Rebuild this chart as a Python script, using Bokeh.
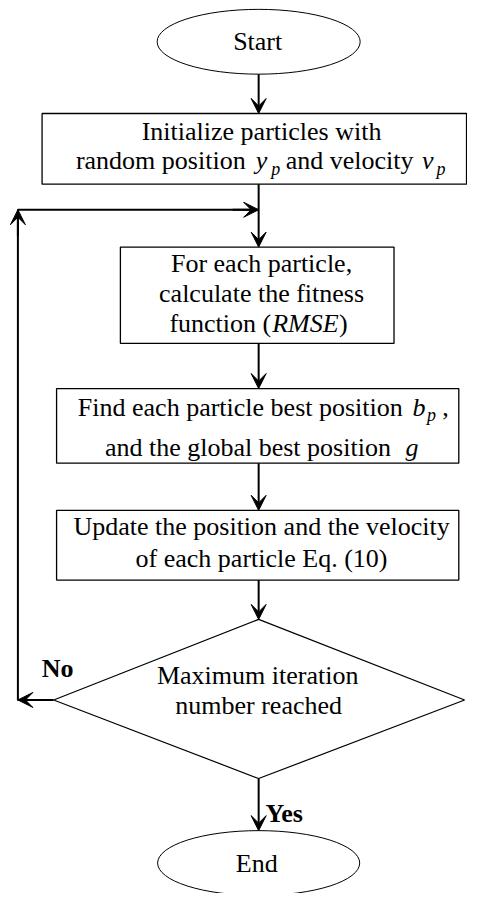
from bokeh.plotting import figure
from bokeh.models import Range1d, Arrow, VeeHead
from bokeh.core.properties import value
from bokeh.embed import file_html
from bokeh.resources import INLINE

# ---- content (labels) ----
start_label = "Start"
end_label = "End"
box1_lines = ["Initialize particles with", "random position"]
box1_tail = ["y", "p", "and velocity", "v", "p"]
box2_lines = ["For each particle,", "calculate the fitness"]
box2_tail = ["function (", "RMSE", ")"]
box3_lines = ["Find each particle best position", "and the global best position"]
box3_tail = ["b", "p", ",", "g"]
box4_lines = ["Update the position and the velocity", "of each particle Eq. (10)"]
diamond_lines = ["Maximum iteration", "number reached"]
branch_labels = ["No", "Yes"]

FONT = "Liberation Serif"
FS = "26px"
FS_SUB = "18px"

p = figure(width=467, height=893, x_range=Range1d(0, 483), y_range=Range1d(909, 0),
           output_backend="svg", toolbar_location=None, min_border=0)
p.axis.visible = False
p.grid.visible = False
p.outline_line_color = None
p.background_fill_color = "white"

CX = 267

# terminals
p.ellipse(x=[CX, CX], y=[42, 878], width=[210, 209], height=[66, 66],
          fill_color="white", line_color="black", line_width=1)

# boxes
bx_left = [43, 124, 58, 58]
bx_right = [482, 407, 474, 474]
bx_top = [115, 251, 395, 519]
bx_bottom = [187, 349, 471, 590]
p.quad(left=bx_left, right=bx_right, top=bx_top, bottom=bx_bottom,
       fill_color="white", line_color="black", line_width=1.3)

# diamond
p.patch(x=[CX, 480, CX, 55], y=[630, 712, 792, 712], fill_color="white",
        line_color="black", line_width=1.2)

# loop-back connector
p.line(x=[55, 18, 18, 267], y=[712, 712, 213, 213], line_color="black", line_width=2)

def arrow(x0, y0, x1, y1):
    p.add_layout(Arrow(x_start=x0, y_start=y0, x_end=x1, y_end=y1,
                       line_color="black", line_width=2,
                       end=VeeHead(size=15, fill_color="black", line_color="black", line_width=1)))

arrow(CX, 75, CX, 115)
arrow(CX, 187, CX, 251)
arrow(CX, 349, CX, 395)
arrow(CX, 471, CX, 519)
arrow(CX, 590, CX, 630)
arrow(CX, 792, CX, 845)
arrow(40, 712, 18, 712)
arrow(18, 240, 18, 213)
arrow(240, 213, 267, 213)

def txt(x, y, t, align="center", style="normal", size=FS):
    p.text(x=[x], y=[y], text=[t], text_font=value(FONT), text_font_size=size,
           text_align=align, text_baseline="middle", text_font_style=style, text_color="black")

TX = 270
txt(266, 42, start_label)
txt(265, 878, end_label)

# box 1
txt(TX, 133, box1_lines[0])
txt(78, 163, box1_lines[1], align="left")
txt(264, 163, box1_tail[0], align="left", style="italic")
txt(280, 172, box1_tail[1], align="left", style="italic", size=FS_SUB)
txt(295, 163, box1_tail[2], align="left")
txt(436, 163, box1_tail[3], align="left", style="italic")
txt(451, 172, box1_tail[4], align="left", style="italic", size=FS_SUB)

# box 2
txt(TX, 268, box2_lines[0])
txt(TX, 298, box2_lines[1])
txt(280, 329, box2_tail[0], align="right")
txt(281, 329, box2_tail[1], align="left", style="italic")
txt(350, 329, box2_tail[2], align="left")

# box 3
txt(80, 414, box3_lines[0], align="left")
txt(426, 414, box3_tail[0], align="left", style="italic")
txt(441, 422, box3_tail[1], align="left", style="italic", size=FS_SUB)
txt(457, 414, box3_tail[2], align="left")
txt(108, 455, box3_lines[1], align="left")
txt(419, 455, box3_tail[3], align="left", style="italic")

# box 4
txt(TX, 535, box4_lines[0])
txt(TX, 568, box4_lines[1])

# diamond
txt(266, 687, diamond_lines[0])
txt(267, 718, diamond_lines[1])

# branch labels
txt(59, 680, branch_labels[0], style="bold")
txt(274, 828, branch_labels[1], align="left", style="bold")

open("out.html", "w").write(file_html(p, INLINE))
